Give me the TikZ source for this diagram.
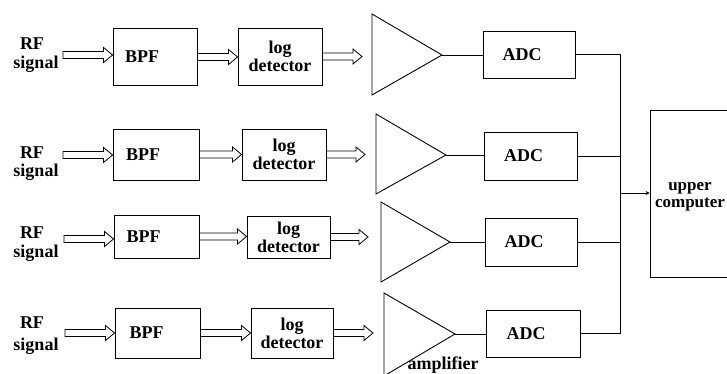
\documentclass[tikz,border=0pt]{standalone}
\usepackage{fontspec}
\setmainfont{Liberation Serif}
\usetikzlibrary{calc,arrows.meta}
\newcommand\hollowarr[2]{\draw[harrow] let \p1=(#1), \p2=(#2) in
  (\x1,\y1+3.5pt) -- (\x2-9pt,\y1+3.5pt) -- (\x2-9pt,\y1+7.5pt) -- (\x2,\y1)
  -- (\x2-9pt,\y1-7.5pt) -- (\x2-9pt,\y1-3.5pt) -- (\x1,\y1-3.5pt) -- cycle;}
\begin{document}
\begin{tikzpicture}[x=1pt,y=-1pt,line width=0.9pt,
  font=\fontsize{18}{18}\selectfont\bfseries,
  box/.style={draw,rectangle,inner sep=0pt,align=center},
  harrow/.style={draw,line width=0.8pt,line join=miter},
  amp/.style={draw,line join=miter}]
\useasboundingbox (0,0) rectangle (727,374);
\clip (0,0) rectangle (727,374);

% ---------- labels RF signal
\node[anchor=base] (rf1) at (32,50) {RF};
\node[anchor=base] (sg1) at (36,69) {signal};
\node[anchor=base] (rf2) at (32,158) {RF};
\node[anchor=base] (sg2) at (36,176) {signal};
\node[anchor=base] (rf3) at (32,238) {RF};
\node[anchor=base] (sg3) at (36,257) {signal};
\node[anchor=base] (rf4) at (32,328) {RF};
\node[anchor=base] (sg4) at (36,350) {signal};

% ---------- BPF boxes
\node[box,minimum width=84,minimum height=57,label={[name=bpf1t,xshift=-13]center:BPF}] (bpf1) at (155,57) {};
\node[box,minimum width=86,minimum height=51,label={[name=bpf2t,xshift=-13]center:BPF}] (bpf2) at (156,154.5) {};
\node[box,minimum width=85,minimum height=43,label={[name=bpf3t,xshift=-13]center:BPF}] (bpf3) at (156.5,236.5) {};
\node[box,minimum width=85,minimum height=50,label={[name=bpf4t,xshift=-11]center:BPF}] (bpf4) at (157.5,333) {};

% ---------- log detector boxes
\node[box,minimum width=84,minimum height=57] (ld1) at (280,56.5) {log\\detector};
\node[box,minimum width=84,minimum height=51] (ld2) at (284,154.5) {log\\detector};
\node[box,minimum width=83,minimum height=42] (ld3) at (288.5,237) {log\\detector};
\node[box,minimum width=82,minimum height=50] (ld4) at (292,333) {log\\detector};

% ---------- ADC boxes
\node[box,minimum width=92,minimum height=47,label={[name=adc1t,xshift=-7]center:ADC}] (adc1) at (529,54.5) {};
\node[box,minimum width=93,minimum height=48,label={[name=adc2t,xshift=-7]center:ADC}] (adc2) at (530.5,156) {};
\node[box,minimum width=92,minimum height=48,label={[name=adc3t,xshift=-7]center:ADC}] (adc3) at (531,242) {};
\node[box,minimum width=94,minimum height=47,label={[name=adc4t,xshift=-7]center:ADC}] (adc4) at (533,333.5) {};

% ---------- upper computer
\node[box,minimum width=110,minimum height=167,
  label={[name=uct,xshift=-15,yshift=-3,align=center,inner sep=0pt,
    font=\fontsize{17}{17}\selectfont\bfseries]center:upper\\computer}] (uc) at (705,193.5) {};

% ---------- amplifiers
\coordinate (t1) at (442,55);
\coordinate (t2) at (446,155);
\coordinate (t3) at (450,242);
\coordinate (t4) at (455,334);
\draw[amp] (372,14) -- (t1) -- (372,95) -- cycle;
\draw[amp] (376,114) -- (t2) -- (376,194) -- cycle;
\draw[amp] (381,202) -- (t3) -- (381,282) -- cycle;
\draw[amp] (384,293) -- (t4) -- (384,376) -- cycle;
\node[anchor=base,inner sep=1pt] (ampl) at (443,369) {amplifier};

% ---------- input / output coordinates
\coordinate (in1) at (63,55);
\coordinate (in2) at (63,155);
\coordinate (in3) at (64,239);
\coordinate (in4) at (65,333);
\coordinate (o1) at (362,55);
\coordinate (o2) at (365,155);
\coordinate (o3) at (368,239);
\coordinate (o4) at (373,333);

% ---------- hollow arrows
\hollowarr{in1}{bpf1.west}
\hollowarr{in2}{bpf2.west}
\hollowarr{in3}{bpf3.west}
\hollowarr{in4}{bpf4.west}
\hollowarr{bpf1.east}{ld1.west}
\hollowarr{bpf2.east}{ld2.west}
\hollowarr{bpf3.east}{ld3.west}
\hollowarr{bpf4.east}{ld4.west}
\hollowarr{ld1.east}{o1}
\hollowarr{ld2.east}{o2}
\hollowarr{ld3.east}{o3}
\hollowarr{ld4.east}{o4}

% ---------- amplifier to ADC
\draw (t1) -- (t1 -| adc1.west);
\draw (t2) -- (t2 -| adc2.west);
\draw (t3) -- (t3 -| adc3.west);
\draw (t4) -- (t4 -| adc4.west);

% ---------- bus
\coordinate (bus4) at (620,333.5);
\coordinate (busm) at (620,193);
\draw (adc1.east) -| (bus4) -- (adc4.east);
\draw (adc2.east) -- (adc2.east -| bus4);
\draw (adc3.east) -- (adc3.east -| bus4);
\draw[-{Stealth[length=4pt,width=4pt]}] (busm) -- (busm -| uc.west);
\end{tikzpicture}
\end{document}
